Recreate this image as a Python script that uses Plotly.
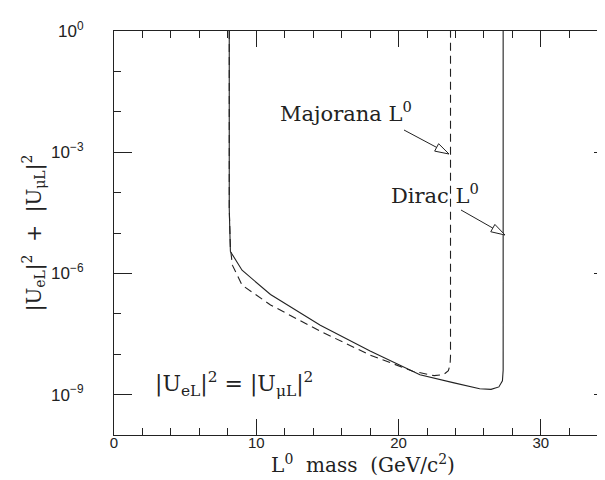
import plotly.graph_objects as go

# ---- data ----
dirac_mass = [8.1, 8.1, 8.18, 9.0, 11.0, 14.5, 18.0, 21.5, 23.9, 25.7, 26.5, 27.05, 27.3, 27.35, 27.35]
dirac_u2 = [1.0, 4.0e-5, 3.5e-6, 1.2e-6, 3.0e-7, 5.2e-8, 1.2e-8, 3.1e-9, 1.95e-9, 1.4e-9, 1.35e-9, 1.55e-9, 2.2e-9, 4.0e-9, 1.0]

majorana_mass = [8.1, 8.1, 8.18, 8.32, 9.0, 11.0, 14.5, 18.0, 21.0, 22.5, 23.15, 23.5, 23.62, 23.65, 23.65]
majorana_u2 = [1.0, 4.0e-5, 4.3e-6, 1.6e-6, 5.1e-7, 1.66e-7, 3.7e-8, 9.5e-9, 3.8e-9, 2.95e-9, 3.1e-9, 3.9e-9, 5.5e-9, 9.0e-9, 1.0]

x_tick_vals = [0, 10, 20, 30]
x_tick_text = ["0", "10", "20", "30"]
x_minor_vals = [2, 4, 6, 8, 12, 14, 16, 18, 22, 24, 26, 28, 32, 34]
y_tick_vals = [1.0, 1e-3, 1e-6, 1e-9]
y_tick_text = ["10<sup>0</sup>", "10<sup>\u22123</sup>", "10<sup>\u22126</sup>", "10<sup>\u22129</sup>"]
y_minor_vals = [1e-1, 1e-2, 1e-4, 1e-5, 1e-7, 1e-8, 1e-10]

# ---- layout geometry ----
W, H = 605, 480
ML, MR, MT, MB = 106, 1, 23, 53
PW, PH = W - ML - MR, H - MT - MB

def paper(px, py):
    return (px - ML) / PW, (H - MB - py) / PH

LINE = "#222222"
SERIF = "DejaVu Serif, serif"
SANS = "Liberation Sans, Arial, sans-serif"

fig = go.Figure()
fig.add_trace(go.Scatter(x=dirac_mass, y=dirac_u2, mode="lines",
                         line=dict(color=LINE, width=1.1), name="Dirac L0", showlegend=False))
fig.add_trace(go.Scatter(x=majorana_mass, y=majorana_u2, mode="lines",
                         line=dict(color=LINE, width=1.1, dash="8px,5px"), name="Majorana L0", showlegend=False))

shapes = []
def open_arrow(tail, tip, head_len=14, half_w=4.2):
    tx, ty = tail
    hx, hy = tip
    dx, dy = hx - tx, hy - ty
    n = (dx * dx + dy * dy) ** 0.5
    ux, uy = dx / n, dy / n
    bx, by = hx - ux * head_len, hy - uy * head_len
    pxv, pyv = -uy * half_w, ux * half_w
    p0 = paper(tx, ty); p1 = paper(bx, by)
    shapes.append(dict(type="line", xref="paper", yref="paper", x0=p0[0], y0=p0[1], x1=p1[0], y1=p1[1],
                       line=dict(color=LINE, width=1)))
    a = paper(hx, hy); b = paper(bx + pxv, by + pyv); c = paper(bx - pxv, by - pyv)
    shapes.append(dict(type="path", xref="paper", yref="paper",
                       path=f"M {a[0]},{a[1]} L {b[0]},{b[1]} L {c[0]},{c[1]} Z",
                       fillcolor="white", line=dict(color=LINE, width=1)))

open_arrow((396, 122), (441, 146))
open_arrow((453, 202), (497, 227))

annotations = []
def label(px, py, text, size=21):
    x, y = paper(px, py)
    annotations.append(dict(xref="paper", yref="paper", x=x, y=y, text=text, showarrow=False,
                            font=dict(family=SERIF, size=size, color=LINE), xanchor="center", yanchor="middle"))

label(338, 104, "Majorana L<sup>0</sup>")
label(427, 186, "Dirac L<sup>0</sup>")
label(226, 376, "|U<sub>eL</sub>|<sup>2</sup> = |U<sub>\u03bcL</sub>|<sup>2</sup>", size=22)

fig.update_layout(
    width=W, height=H, autosize=False,
    margin=dict(l=ML, r=MR, t=MT, b=MB),
    paper_bgcolor="white", plot_bgcolor="white",
    shapes=shapes, annotations=annotations,
    xaxis=dict(range=[0, 35], tickvals=x_tick_vals, ticktext=x_tick_text,
               ticks="inside", ticklen=16, tickwidth=1, tickcolor=LINE,
               minor=dict(tickvals=x_minor_vals, ticks="inside", ticklen=7, tickwidth=1, tickcolor=LINE),
               showline=True, linecolor=LINE, linewidth=1, mirror="ticks", showgrid=False, zeroline=False,
               tickfont=dict(family=SANS, size=15, color=LINE), ticklabelstandoff=-6,
               title=dict(text="L<sup>0</sup>  mass  (GeV/c<sup>2</sup>)", font=dict(family=SERIF, size=20, color=LINE),
                          standoff=4)),
    yaxis=dict(type="log", range=[-10, 0], tickvals=y_tick_vals, ticktext=y_tick_text,
               ticks="inside", ticklen=18, tickwidth=1, tickcolor=LINE,
               minor=dict(tickvals=y_minor_vals, ticks="inside", ticklen=7, tickwidth=1, tickcolor=LINE),
               showline=True, linecolor=LINE, linewidth=1, mirror="ticks", showgrid=False, zeroline=False,
               tickfont=dict(family=SANS, size=17, color=LINE), ticklabelstandoff=26,
               title=dict(text="|U<sub>eL</sub>|<sup>2</sup>  +  |U<sub>\u03bcL</sub>|<sup>2</sup>",
                          font=dict(family=SERIF, size=20, color=LINE), standoff=4)),
)

fig.write_html("out.html")
